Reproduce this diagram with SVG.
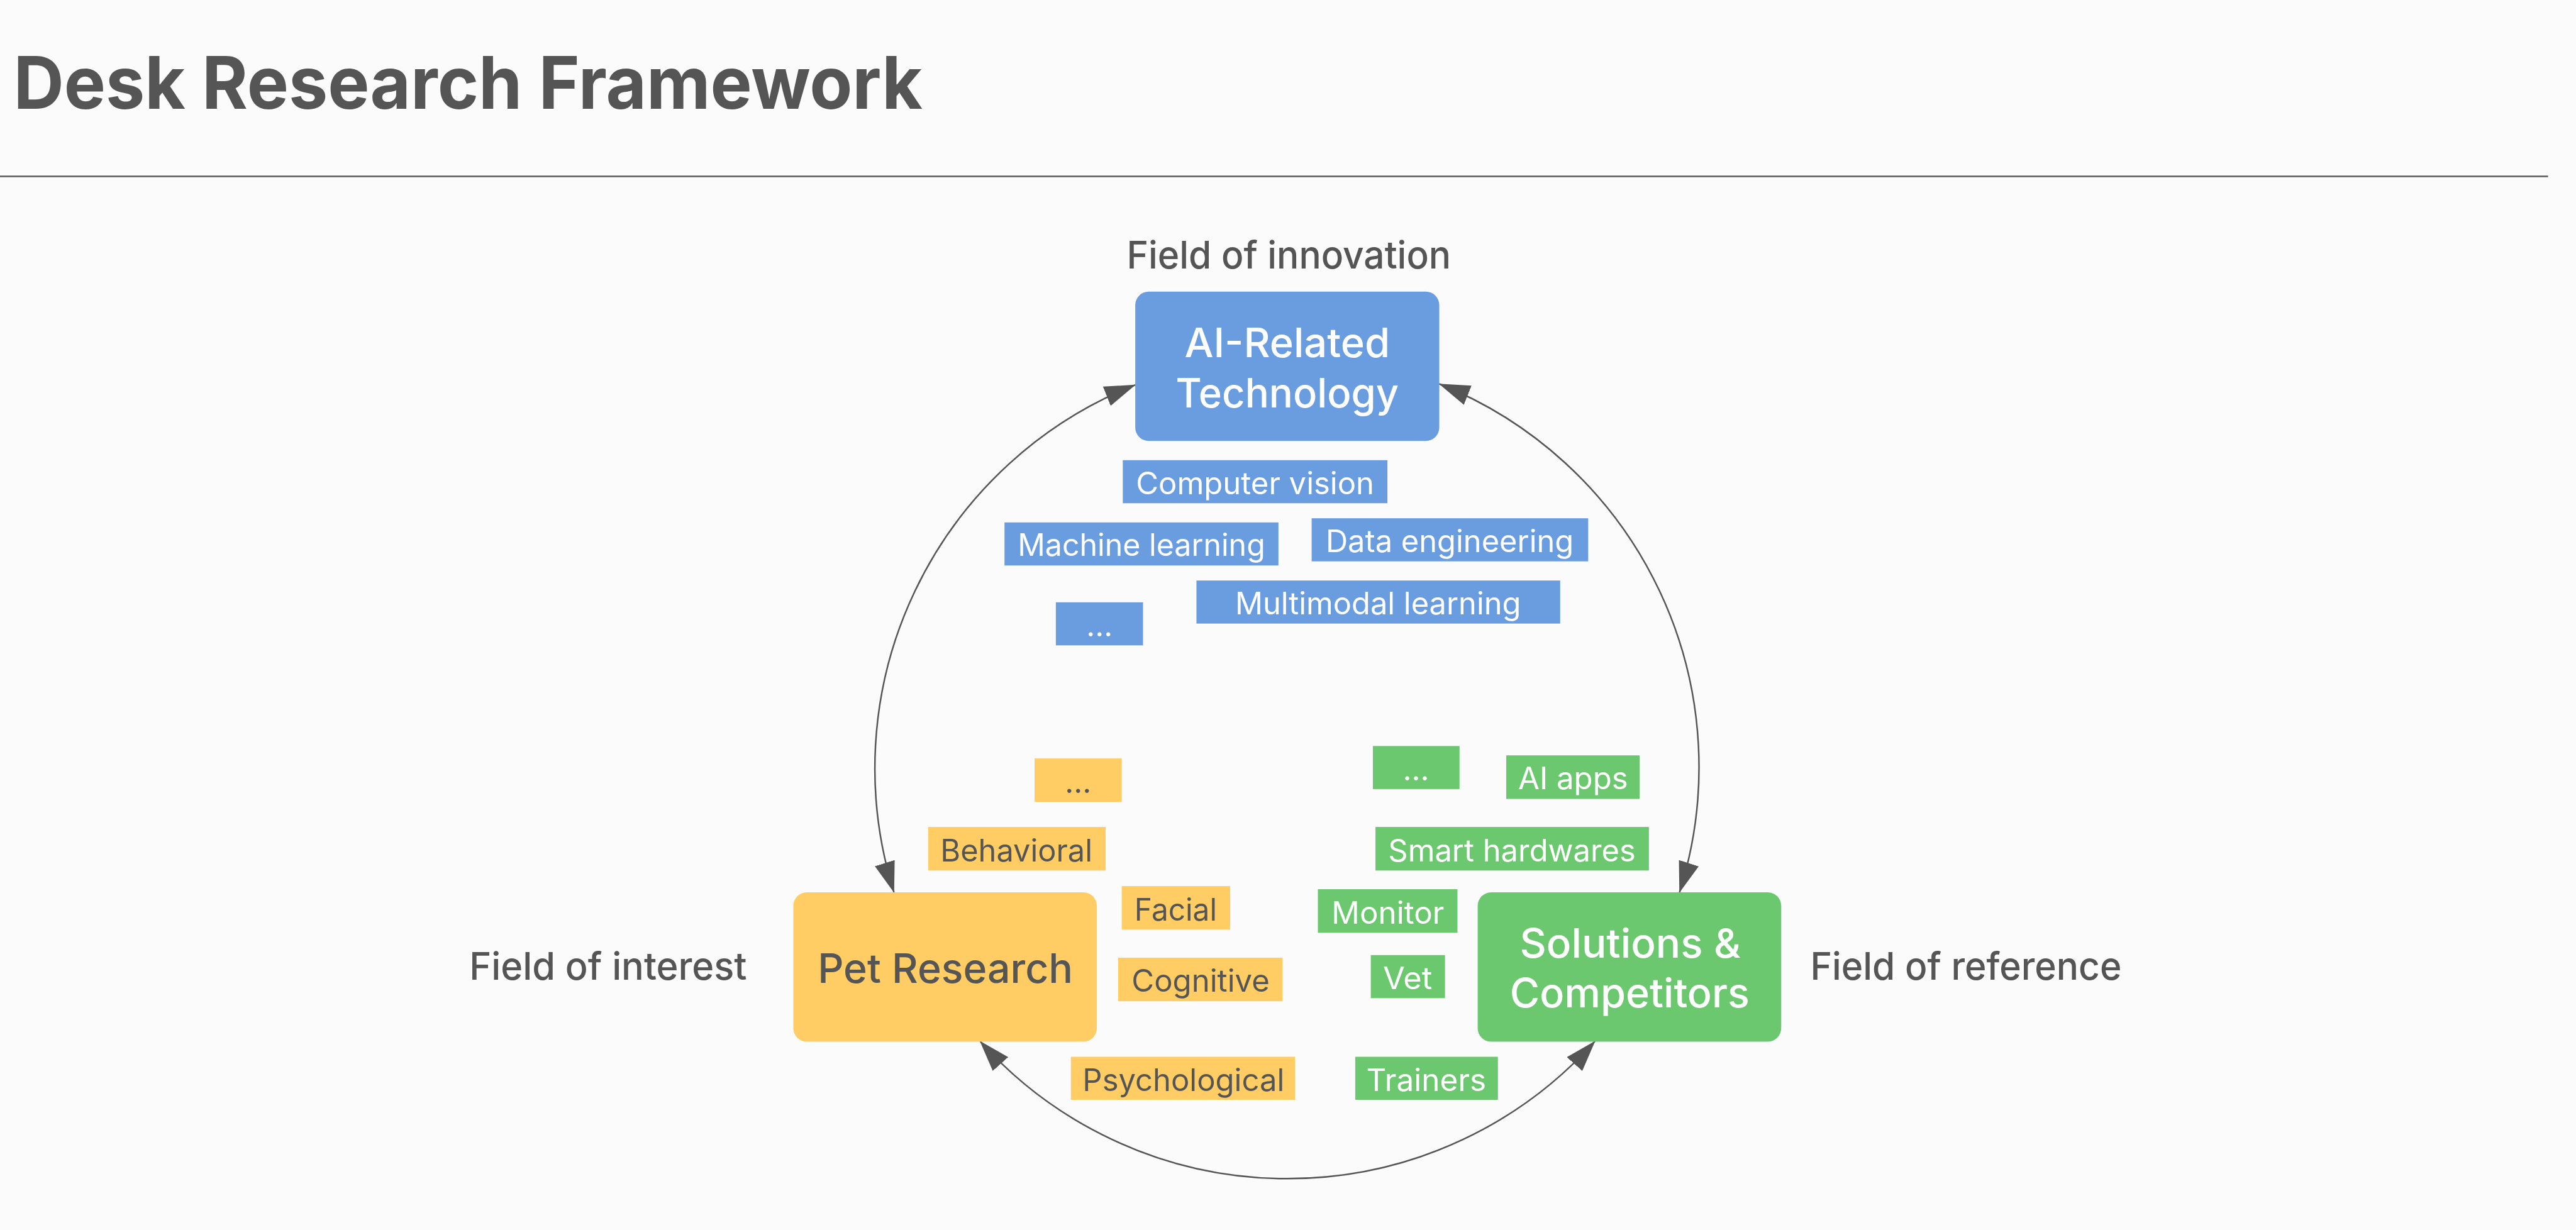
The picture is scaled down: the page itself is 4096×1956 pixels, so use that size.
<svg xmlns="http://www.w3.org/2000/svg" width="4096" height="1956" viewBox="0 0 4096 1956">
  <defs>
    <style>
      .t { font-family: Inter, "Noto Sans", "Liberation Sans", sans-serif; }
      .title { font-size: 140px; font-weight: 700; fill: #555555; }
      .field { font-size: 74px; font-weight: 500; fill: #555555; text-anchor: middle; }
      .main { font-size: 78px; font-weight: 500; text-anchor: middle; }
      .tag { font-size: 59px; font-weight: 400; text-anchor: middle; }
      .light { fill: #ffffff; }
      .dark { fill: #555555; }
      .blue { fill: #6a9de0; }
      .yellow { fill: #ffcd63; }
      .green { fill: #6bc86f; }
      .conn { fill: none; stroke: #555555; stroke-width: 3; marker-start: url(#arrow); marker-end: url(#arrow); }
    </style>
    <marker id="arrow" markerUnits="userSpaceOnUse" markerWidth="60" markerHeight="40" viewBox="0 0 60 40" refX="59" refY="20" orient="auto-start-reverse">
      <path d="M0,0 L60,20 L0,40 Z" fill="#555555"/>
    </marker>
  </defs>
  <rect width="4096" height="1956" fill="#fbfbfb"/>
  <g transform="scale(0.825)">
    <text class="t title" x="902" y="210" text-anchor="middle" textLength="1752" lengthAdjust="spacingAndGlyphs">Desk Research Framework</text>
    <line x1="0" y1="340" x2="4911" y2="340" stroke="#5a5a5a" stroke-width="3"/>

    <g id="connectors">
      <path class="conn" d="M2188,742 A795,795 0 0 0 1723,1720"/>
      <path class="conn" d="M2774,740 A795,795 0 0 1 3237,1720"/>
      <path class="conn" d="M1889,2007 A795,795 0 0 0 3074,2007"/>
    </g>

    <g id="label-innovation">
      <text class="t field" x="2484" y="517" textLength="625" lengthAdjust="spacingAndGlyphs">Field of innovation</text>
    </g>
    <g id="label-interest">
      <text class="t field" x="1172" y="1889" textLength="535" lengthAdjust="spacingAndGlyphs">Field of interest</text>
    </g>
    <g id="label-reference">
      <text class="t field" x="3789" y="1888" textLength="600" lengthAdjust="spacingAndGlyphs">Field of reference</text>
    </g>

    <g id="node-ai">
      <rect class="blue" x="2188" y="562" width="586" height="288" rx="26"/>
      <text class="t main light" x="2481" y="688" textLength="396" lengthAdjust="spacingAndGlyphs">AI-Related</text>
      <text class="t main light" x="2481" y="785" textLength="430" lengthAdjust="spacingAndGlyphs">Technology</text>
    </g>
    <g id="node-pet">
      <rect class="yellow" x="1529" y="1720" width="585" height="288" rx="26"/>
      <text class="t main dark" x="1822" y="1895" font-weight="600" textLength="492" lengthAdjust="spacingAndGlyphs">Pet Research</text>
    </g>
    <g id="node-solutions">
      <rect class="green" x="2848" y="1720" width="585" height="288" rx="26"/>
      <text class="t main light" x="3142" y="1846" textLength="426" lengthAdjust="spacingAndGlyphs">Solutions &amp;</text>
      <text class="t main light" x="3141" y="1942" textLength="462" lengthAdjust="spacingAndGlyphs">Competitors</text>
    </g>

    <g id="tag-computer-vision">
      <rect class="blue" x="2164" y="887" width="510" height="83"/>
      <text class="t tag light" x="2419" y="953" textLength="459" lengthAdjust="spacingAndGlyphs">Computer vision</text>
    </g>
    <g id="tag-machine-learning">
      <rect class="blue" x="1936" y="1007" width="528" height="83"/>
      <text class="t tag light" x="2200" y="1072" textLength="477" lengthAdjust="spacingAndGlyphs">Machine learning</text>
    </g>
    <g id="tag-data-engineering">
      <rect class="blue" x="2528" y="999" width="533" height="83"/>
      <text class="t tag light" x="2794" y="1064" textLength="478" lengthAdjust="spacingAndGlyphs">Data engineering</text>
    </g>
    <g id="tag-multimodal">
      <rect class="blue" x="2306" y="1119" width="701" height="83"/>
      <text class="t tag light" x="2656" y="1184" textLength="551" lengthAdjust="spacingAndGlyphs">Multimodal learning</text>
    </g>
    <g id="tag-ai-more">
      <rect class="blue" x="2035" y="1161" width="168" height="83"/>
      <text class="t tag light" x="2119" y="1227">...</text>
    </g>

    <g id="tag-pet-more">
      <rect class="yellow" x="1994" y="1462" width="168" height="84"/>
      <text class="t tag dark" x="2078" y="1528">...</text>
    </g>
    <g id="tag-behavioral">
      <rect class="yellow" x="1789" y="1594" width="342" height="84"/>
      <text class="t tag dark" x="1959" y="1660" textLength="293" lengthAdjust="spacingAndGlyphs">Behavioral</text>
    </g>
    <g id="tag-facial">
      <rect class="yellow" x="2162" y="1708" width="209" height="84"/>
      <text class="t tag dark" x="2266" y="1774" textLength="159" lengthAdjust="spacingAndGlyphs">Facial</text>
    </g>
    <g id="tag-cognitive">
      <rect class="yellow" x="2155" y="1846" width="317" height="84"/>
      <text class="t tag dark" x="2314" y="1911" textLength="266" lengthAdjust="spacingAndGlyphs">Cognitive</text>
    </g>
    <g id="tag-psychological">
      <rect class="yellow" x="2064" y="2037" width="432" height="83"/>
      <text class="t tag dark" x="2281" y="2103" textLength="389" lengthAdjust="spacingAndGlyphs">Psychological</text>
    </g>

    <g id="tag-sol-more">
      <rect class="green" x="2646" y="1438" width="167" height="83"/>
      <text class="t tag light" x="2729" y="1504">...</text>
    </g>
    <g id="tag-ai-apps">
      <rect class="green" x="2903" y="1456" width="257" height="84"/>
      <text class="t tag light" x="3032" y="1521" textLength="212" lengthAdjust="spacingAndGlyphs">AI apps</text>
    </g>
    <g id="tag-smart-hardwares">
      <rect class="green" x="2651" y="1594" width="527" height="84"/>
      <text class="t tag light" x="2914" y="1660" textLength="477" lengthAdjust="spacingAndGlyphs">Smart hardwares</text>
    </g>
    <g id="tag-monitor">
      <rect class="green" x="2540" y="1714" width="269" height="84"/>
      <text class="t tag light" x="2675" y="1780" textLength="217" lengthAdjust="spacingAndGlyphs">Monitor</text>
    </g>
    <g id="tag-vet">
      <rect class="green" x="2642" y="1841" width="143" height="83"/>
      <text class="t tag light" x="2713" y="1907" textLength="95" lengthAdjust="spacingAndGlyphs">Vet</text>
    </g>
    <g id="tag-trainers">
      <rect class="green" x="2612" y="2037" width="275" height="83"/>
      <text class="t tag light" x="2749" y="2103" textLength="231" lengthAdjust="spacingAndGlyphs">Trainers</text>
    </g>
  </g>
</svg>
